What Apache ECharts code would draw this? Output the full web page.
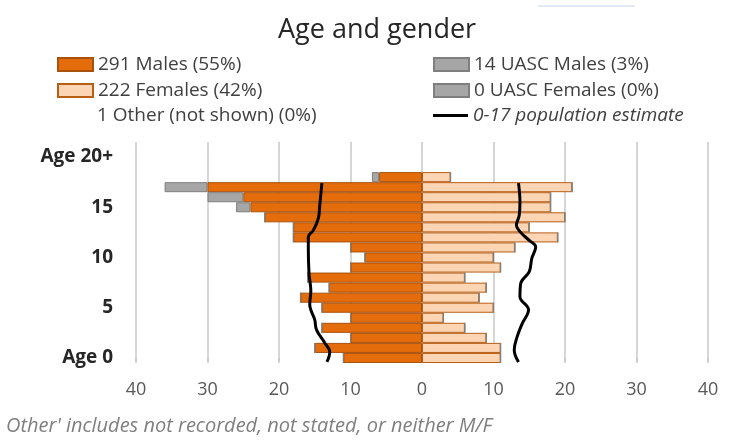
<!DOCTYPE html>
<html>
<head>
  <meta charset="utf-8">
  <title>Age and gender</title>
  <script src="https://cdn.jsdelivr.net/npm/echarts@6/dist/echarts.min.js"></script>
  <style>
    html, body { margin: 0; padding: 0; background: #fff; }
    #chart { width: 742px; height: 440px; }
  </style>
</head>
<body>
<div id="chart"></div>
<script>
  // ages 0 .. 20+ (bottom to top)
  const ageLabels = ['Age 0', '1', '2', '3', '4', '5', '6', '7', '8', '9', '10',
    '11', '12', '13', '14', '15', '16', '17', '18', '19', 'Age 20+'];
  const males = [11, 15, 10, 14, 10, 14, 17, 13, 16, 10, 8, 10, 18, 18, 22, 24, 25, 30, 6];
  const uascMales = [0, 0, 0, 0, 0, 0, 0, 0, 0, 0, 0, 0, 0, 0, 0, 2, 5, 6, 1];
  const females = [11, 11, 9, 6, 3, 10, 8, 9, 6, 11, 10, 13, 19, 15, 20, 18, 18, 21, 4];
  const uascFemales = [0, 0, 0, 0, 0, 0, 0, 0, 0, 0, 0, 0, 0, 0, 0, 0, 0, 0, 0];
  // 0-17 population estimate, [age position, value]
  const malePop = [[-0.4, 13.3], [0.6, 12.9], [1.5, 13.6], [2.8, 14.75], [3.8, 15.0], [4.6, 15.45],
    [5.3, 15.7], [6.7, 15.55], [8.4, 15.8], [10.9, 15.9], [12.05, 15.9], [12.7, 15.2],
    [13.9, 14.5], [15.2, 14.3], [17.4, 14.0]];
  const femalePop = [[-0.4, 13.5], [0.8, 12.9], [2.1, 13.3], [3.4, 14.0], [4.8, 14.9], [6.1, 13.7],
    [7.4, 13.8], [8.6, 15.0], [9.9, 15.35], [11.05, 15.9], [11.7, 15.0], [12.5, 13.8],
    [13.2, 13.2], [14.2, 13.6], [15.5, 13.7], [17.4, 13.5]];
  const legendNames = ['291 Males (55%)', '222 Females (42%)', '1 Other (not shown) (0%)',
    '14 UASC Males (3%)', '0 UASC Females (0%)', '0-17 population estimate'];

  const FONT = '"Open Sans", sans-serif';
  const GRID_COLOR = '#c8c8c8';

  const chart = echarts.init(document.getElementById('chart'), null, { renderer: 'canvas' });

  function legendAt(name, left, top, extra) {
    return Object.assign({
      data: [{ name: name, icon: 'rect' }], left: left, top: top, padding: 0,
      itemWidth: 35, itemHeight: 13, selectedMode: false,
      textStyle: { fontFamily: FONT, fontSize: 19, color: '#404040' }
    }, extra || {});
  }

  const barCommon = {
    type: 'bar', xAxisIndex: 0, yAxisIndex: 0,
    barCategoryGap: '0%', barGap: '-100%', animation: false
  };

  chart.setOption({
    animation: false,
    title: {
      text: 'Age and gender', left: 278, top: 11, padding: 0,
      textStyle: { fontFamily: FONT, fontSize: 27, fontWeight: 'normal', color: '#262626', lineHeight: 38 }
    },
    legend: [
      legendAt(legendNames[0], 57, 55),
      legendAt(legendNames[1], 57, 81),
      legendAt(legendNames[2], 57, 106, { data: [{ name: legendNames[2], icon: 'none' }] }),
      legendAt(legendNames[3], 433, 55),
      legendAt(legendNames[4], 433, 81),
      legendAt(legendNames[5], 433, 106, {
        itemHeight: 3,
        textStyle: { fontFamily: FONT, fontSize: 19, color: '#404040', fontStyle: 'italic' }
      })
    ],
    grid: { left: 136, right: 34, top: 152, bottom: 77 },
    xAxis: [{
      type: 'value', min: -40, max: 40, interval: 10,
      axisLine: { show: false },
      axisTick: { show: true, length: 3, lineStyle: { color: GRID_COLOR, width: 1.5 } },
      splitLine: { show: true, lineStyle: { color: GRID_COLOR, width: 1.5 } },
      axisLabel: {
        margin: 18, fontFamily: FONT, fontSize: 18, color: '#595959',
        formatter: function (v) { return Math.abs(v); }
      }
    }, {
      type: 'value', position: 'top', min: -40, max: 40, interval: 10,
      axisLine: { show: false }, splitLine: { show: false }, axisLabel: { show: false },
      axisTick: { show: true, length: 10, lineStyle: { color: GRID_COLOR, width: 1.5 } }
    }],
    yAxis: [{
      type: 'category', data: ageLabels,
      axisLine: { show: false }, axisTick: { show: false },
      axisLabel: { interval: 4, margin: 23, fontFamily: FONT, fontSize: 19, fontWeight: 'bold', color: '#262626' }
    }, {
      type: 'value', min: -0.5, max: 20.5, show: false
    }],
    series: [
      Object.assign({}, barCommon, {
        name: legendNames[0], stack: 'm',
        data: males.map(function (v) { return -v; }),
        itemStyle: { color: '#E46C0A', borderColor: '#A9520E', borderWidth: 1 }
      }),
      Object.assign({}, barCommon, {
        name: legendNames[3], stack: 'm',
        data: uascMales.map(function (v) { return -v; }),
        itemStyle: { color: '#A6A6A6', borderColor: '#7F7F7F', borderWidth: 1 }
      }),
      Object.assign({}, barCommon, {
        name: legendNames[1], stack: 'f',
        data: females,
        itemStyle: { color: '#FCD5B5', borderColor: '#B85F16', borderWidth: 1 }
      }),
      Object.assign({}, barCommon, {
        name: legendNames[4], stack: 'f',
        data: uascFemales,
        itemStyle: { color: '#A6A6A6', borderColor: '#7F7F7F', borderWidth: 1 }
      }),
      Object.assign({}, barCommon, {
        name: legendNames[2], stack: 'o', data: [],
        itemStyle: { color: 'transparent' }
      }),
      {
        name: legendNames[5], type: 'line', xAxisIndex: 0, yAxisIndex: 1,
        data: malePop.map(function (p) { return [-p[1], p[0]]; }),
        symbol: 'none', smooth: 0.4, z: 5,
        lineStyle: { color: '#000', width: 3 }, itemStyle: { color: '#000' }
      },
      {
        name: legendNames[5], type: 'line', xAxisIndex: 0, yAxisIndex: 1,
        data: femalePop.map(function (p) { return [p[1], p[0]]; }),
        symbol: 'none', smooth: 0.4, z: 5,
        lineStyle: { color: '#000', width: 3 }, itemStyle: { color: '#000' }
      }
    ],
    graphic: [
      {
        type: 'line', shape: { x1: 538, y1: 6, x2: 635, y2: 6 },
        style: { stroke: '#e2eaf7', lineWidth: 2 }
      },
      {
        type: 'text', left: 6, top: 416,
        style: {
          text: "Other' includes not recorded, not stated, or neither M/F",
          font: 'italic 20px "Open Sans", sans-serif', fill: '#7f7f7f'
        }
      }
    ]
  });
</script>
</body>
</html>
